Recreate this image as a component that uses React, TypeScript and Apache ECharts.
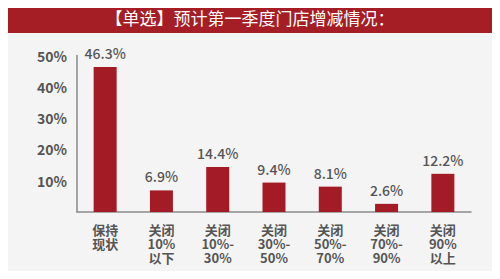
import React, { useEffect, useRef } from "react";
import * as echarts from "echarts";

const categories = ["保持\n现状", "关闭\n10%\n以下", "关闭\n10%-\n30%", "关闭\n30%-\n50%", "关闭\n50%-\n70%", "关闭\n70%-\n90%", "关闭\n90%\n以上"];
const values = [46.3, 6.9, 14.4, 9.4, 8.1, 2.6, 12.2];
const titleText = "【单选】预计第一季度门店增减情况：";

export default function App() {
  const ref = useRef<HTMLDivElement>(null);
  useEffect(() => {
    const chart = echarts.init(ref.current!, null, { renderer: "svg" });
    const font = "'Noto Sans CJK SC', 'Noto Sans', sans-serif";
    chart.setOption({
      animation: false,
      backgroundColor: "#f4f4f4",
      textStyle: { fontFamily: font },
      graphic: [
        { type: "rect", shape: { x: 0, y: 0, width: 500, height: 33 }, style: { fill: "#a51d25" } },
        {
          type: "text",
          x: 250,
          y: 17,
          style: { text: titleText, fill: "#ffffff", font: `17px ${font}`, textAlign: "center", textVerticalAlign: "middle" },
        },
      ],
      grid: { left: 77, right: 29, top: 55.5, bottom: 67 },
      xAxis: {
        type: "category",
        data: categories,
        axisLine: { lineStyle: { color: "#8a8a8a", width: 1.5 } },
        axisTick: { show: false },
        axisLabel: { color: "#555", fontSize: 13, fontWeight: "bold", lineHeight: 14, margin: 10, interval: 0, verticalAlign: "top" },
      },
      yAxis: {
        type: "value",
        min: 0,
        max: 50,
        interval: 10,
        splitLine: { show: false },
        axisLine: { show: true, lineStyle: { color: "#8a8a8a", width: 1.5 } },
        axisTick: { show: false },
        axisLabel: {
          color: "#555",
          fontSize: 14,
          fontWeight: "bold",
          margin: 10,
          formatter: (v: number) => (v === 0 ? "" : v + "%"),
        },
      },
      series: [
        {
          type: "bar",
          data: values,
          barWidth: 23,
          itemStyle: { color: "#a31c25" },
          label: { show: true, position: "top", color: "#555", fontSize: 14, fontWeight: 500, distance: 7, formatter: (p: any) => p.value + "%" },
        },
      ],
    });
    return () => chart.dispose();
  }, []);
  return <div ref={ref} style={{ width: 500, height: 279, margin: -8 }} />;
}
